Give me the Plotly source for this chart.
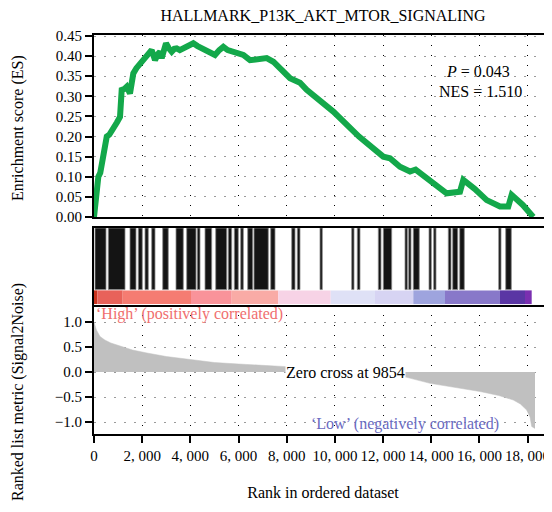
import plotly.graph_objects as go

# ---------------- data ----------------
title_text = "HALLMARK_P13K_AKT_MTOR_SIGNALING"

es_rank = [0, 40, 100, 180, 260, 330, 390, 460, 530, 640, 800, 950, 1080, 1120, 1150, 1250,
           1357, 1494, 1560, 1632, 1760, 1909, 2000, 2117, 2250, 2395, 2470, 2532, 2650, 2740,
           2810, 2900, 2989, 3100, 3225, 3330, 3433, 3560, 3708, 3900, 4122, 4300, 4537, 4780,
           5023, 5200, 5368, 5550, 5783, 6000, 6198, 6476, 6800, 7168, 7445, 7800, 8136, 8551,
           8829, 9934, 10212, 11000, 12009, 12287, 12700, 13118, 13350, 13533, 14086, 14640,
           15193, 15331, 15800, 16301, 16853, 17198, 17337, 17800, 18235]
es_value = [0.0, 0.03, 0.05, 0.10, 0.11, 0.14, 0.158, 0.17, 0.20, 0.205, 0.224, 0.235, 0.249,
            0.30, 0.316, 0.318, 0.324, 0.307, 0.33, 0.357, 0.37, 0.382, 0.385, 0.399, 0.405,
            0.415, 0.40, 0.39, 0.405, 0.411, 0.395, 0.42, 0.432, 0.42, 0.411, 0.418, 0.419,
            0.415, 0.419, 0.425, 0.432, 0.425, 0.419, 0.41, 0.403, 0.415, 0.423, 0.415, 0.411,
            0.405, 0.403, 0.39, 0.393, 0.395, 0.386, 0.365, 0.345, 0.334, 0.316, 0.262, 0.245,
            0.20, 0.150, 0.146, 0.125, 0.113, 0.118, 0.110, 0.084, 0.059, 0.063, 0.092, 0.070,
            0.042, 0.026, 0.026, 0.055, 0.030, 0.0]

hit_start = [42, 594, 1494, 1839, 2117, 2395, 2852, 3404, 3848, 4288, 4608, 5052, 5575, 5824,
             6090, 6380, 6642, 7335, 8207, 8439, 9381, 10697, 10930, 11802, 12009, 12910, 13063,
             13254, 13906, 14101, 14707, 14890, 15181, 16800, 17090]
hit_end = [498, 1287, 1743, 2005, 2254, 2532, 3084, 3707, 4234, 4400, 4886, 5509, 5716, 5990,
           6198, 6588, 7235, 7514, 8344, 8551, 9477, 10793, 11042, 11914, 12358, 13006, 13159,
           13503, 14002, 14197, 14819, 15098, 15372, 16895, 17323]

band_edges = [0, 137, 1191, 4027, 5716, 7651, 9826, 11664, 13254, 14570, 16853, 17891, 18169]
band_colors = ["#c9341f", "#e8625a", "#f57c72", "#f9939a", "#f9aba6", "#f7d3e6",
               "#dfe1f6", "#d7d4f3", "#9ea4de", "#8878c9", "#5a36a4", "#7a2fb0"]

metric_rank = [0, 30, 100, 250, 450, 700, 1000, 1600, 2200, 3000, 4000, 5000, 6000, 7000, 8000,
               9000, 9854, 10500, 11500, 12500, 12980, 13948, 15000, 16023, 16800, 17406, 17700,
               17960, 18100, 18169, 18306]
metric_value = [1.0, 0.95, 0.84, 0.71, 0.64, 0.58, 0.53, 0.44, 0.38, 0.31, 0.25, 0.19, 0.16,
                0.13, 0.107, 0.06, 0.0, -0.02, -0.05, -0.085, -0.107, -0.227, -0.31, -0.39,
                -0.47, -0.56, -0.64, -0.76, -0.9, -1.09, -1.13]

x_ticks = [0, 2000, 4000, 6000, 8000, 10000, 12000, 14000, 16000, 18000]
x_ticktext = ["0", "2, 000", "4, 000", "6, 000", "8, 000", "10, 000", "12, 000", "14, 000",
              "16, 000", "18, 000"]
es_ticks = [0.0, 0.05, 0.10, 0.15, 0.20, 0.25, 0.30, 0.35, 0.40, 0.45]
metric_ticks = [-1.0, -0.5, 0.0, 0.5, 1.0]
metric_ticktext = ["\u22121.0", "\u22120.5", "0.0", "0.5", "1.0"]

p_text = "<i>P</i> = 0.043"
nes_text = "NES = 1.510"
zero_text = "Zero cross at 9854"
high_text = "\u2018High\u2019 (positively correlated)"
low_text = "\u2018Low\u2019 (negatively correlated)"

# ---------------- figure ----------------
FONT = "Liberation Serif, DejaVu Serif, serif"
FS = 16
TFS = 15
XMAX = 19012
PAGE_OFF = 8  # default body margin of the html page

fig = go.Figure()

fig.add_trace(go.Scatter(x=es_rank, y=es_value, mode="lines",
                         line=dict(color="#13a84a", width=6), xaxis="x", yaxis="y",
                         hoverinfo="skip"))

hit_c = [(a + b) / 2 for a, b in zip(hit_start, hit_end)]
hit_w = [b - a for a, b in zip(hit_start, hit_end)]
fig.add_trace(go.Bar(x=hit_c, y=[0.8] * len(hit_c), base=0.2, width=hit_w,
                     marker=dict(color="#141414", line=dict(color="#8a8a8a", width=0.8)),
                     xaxis="x2", yaxis="y2", hoverinfo="skip"))

band_c = [(band_edges[i] + band_edges[i + 1]) / 2 for i in range(len(band_colors))]
band_w = [band_edges[i + 1] - band_edges[i] for i in range(len(band_colors))]
fig.add_trace(go.Bar(x=band_c, y=[0.178] * len(band_c), base=0.012, width=band_w,
                     marker=dict(color=band_colors, line=dict(width=0)),
                     xaxis="x2", yaxis="y2", hoverinfo="skip"))

fig.add_trace(go.Scatter(x=metric_rank, y=metric_value, mode="lines", fill="tozeroy",
                         fillcolor="#c0c0c0", line=dict(color="#c0c0c0", width=0.5),
                         xaxis="x3", yaxis="y3", hoverinfo="skip"))

axis_common = dict(range=[0, XMAX], linecolor="black", linewidth=2, zeroline=False)
tickfont = dict(family=FONT, size=TFS, color="black")

fig.update_layout(
    width=552, height=512,
    margin=dict(l=94 - PAGE_OFF, r=PAGE_OFF, t=35 - PAGE_OFF, b=78 + PAGE_OFF,
                autoexpand=False),
    paper_bgcolor="white", plot_bgcolor="white",
    showlegend=False, barmode="overlay",
    font=dict(family=FONT, size=FS, color="black"),
    title=dict(text=title_text, x=0.5, xref="paper", xanchor="center",
               y=1 - (15.5 - PAGE_OFF) / 512, yref="container", yanchor="middle",
               font=dict(family=FONT, size=16, color="black")),
    xaxis=dict(**axis_common, domain=[0, 1], anchor="y", showline=True, mirror=True,
               tickvals=x_ticks[1:], showticklabels=False, ticks="",
               showgrid=True, gridcolor="black", gridwidth=1, griddash="1px,9px"),
    yaxis=dict(domain=[0.5439, 1], anchor="x", range=[0, 0.4525], tickvals=es_ticks,
               tickformat=".2f", ticks="outside", ticklen=7, tickwidth=2, tickcolor="black",
               showline=True, linecolor="black", linewidth=2, zeroline=False,
               showgrid=True, gridcolor="#9a9a9a", gridwidth=1, griddash="2px,8px",
               tickfont=tickfont),
    xaxis2=dict(**axis_common, domain=[0, 1], anchor="y2", matches="x", showline=True,
                mirror=True, showticklabels=False, ticks="", showgrid=False),
    yaxis2=dict(domain=[0.3233, 0.5163], anchor="x2", range=[0, 1], showline=True,
                linecolor="black", linewidth=2, showticklabels=False, ticks="",
                showgrid=False, zeroline=False),
    xaxis3=dict(**axis_common, domain=[0, 1], anchor="y3", matches="x", showline=True,
                tickvals=x_ticks, ticktext=x_ticktext, ticks="outside", ticklen=7,
                tickwidth=2, tickcolor="black", tickfont=tickfont,
                showgrid=True, gridcolor="black", gridwidth=1, griddash="1px,9px",
                title=dict(text="Rank in ordered dataset", standoff=24,
                           font=dict(family=FONT, size=FS, color="black"))),
    yaxis3=dict(domain=[0, 0.3233], anchor="x3", range=[-1.24, 1.34], tickvals=metric_ticks,
                ticktext=metric_ticktext, ticks="outside", ticklen=7, tickwidth=2,
                tickcolor="black", showline=True, linecolor="black", linewidth=2,
                zeroline=False, showgrid=True, gridcolor="#9a9a9a", gridwidth=1,
                griddash="2px,8px", tickfont=tickfont),
)

ann_font = dict(family=FONT, size=FS, color="black")
fig.add_annotation(text=p_text, x=15940, y=0.361, xref="x", yref="y", showarrow=False,
                   font=ann_font, xanchor="center", yanchor="middle")
fig.add_annotation(text=nes_text, x=16050, y=0.3115, xref="x", yref="y", showarrow=False,
                   font=ann_font, xanchor="center", yanchor="middle")
fig.add_annotation(text=zero_text, x=10420, y=0.0, xref="x3", yref="y3", showarrow=False,
                   font=ann_font, xanchor="center", yanchor="middle", bgcolor="white",
                   borderpad=0)
fig.add_annotation(text=high_text, x=20, y=1.16, xref="x3", yref="y3", showarrow=False,
                   font=dict(family=FONT, size=FS, color="#f06e6e"), xanchor="left",
                   yanchor="middle")
fig.add_annotation(text=low_text, x=12910, y=-1.04, xref="x3", yref="y3", showarrow=False,
                   font=dict(family=FONT, size=FS, color="#6a6abf"), xanchor="center",
                   yanchor="middle")
fig.add_annotation(text="Enrichment score (ES)", textangle=-90, x=(18 - 94) / 458,
                   y=(434 - 128) / 399, xref="paper", yref="paper", showarrow=False,
                   font=ann_font, xanchor="center", yanchor="middle")
fig.add_annotation(text="Ranked list metric (Signal2Noise)", textangle=-90,
                   x=(18 - 94) / 458, y=(434 - 392) / 399, xref="paper", yref="paper",
                   showarrow=False, font=ann_font, xanchor="center", yanchor="middle")

fig.write_html("out.html")
